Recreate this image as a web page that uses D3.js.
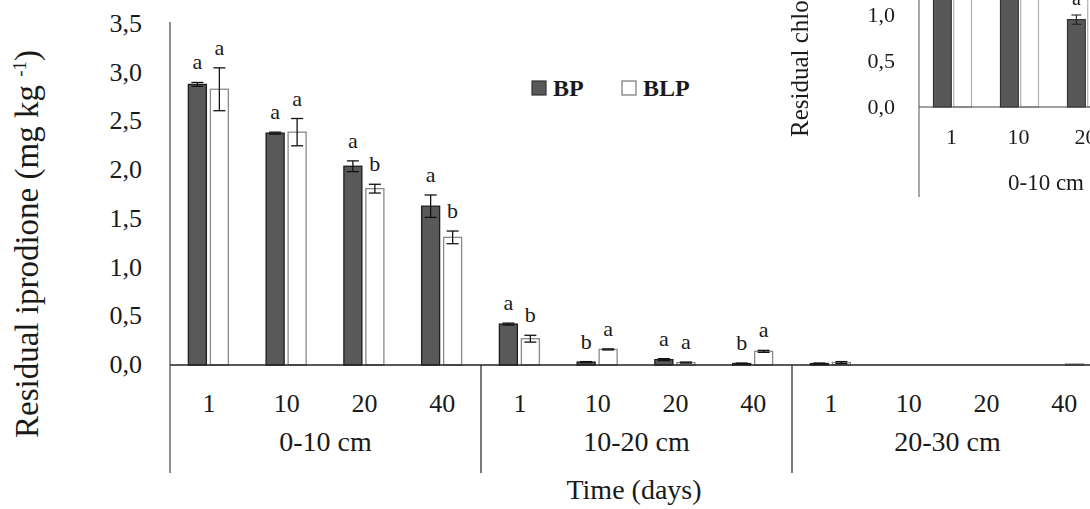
<!DOCTYPE html>
<html>
<head>
<meta charset="utf-8">
<script src="https://cdn.jsdelivr.net/npm/d3@7"></script>
<style>
  html, body { margin: 0; padding: 0; background: #fff; }
  svg { display: block; }
  text { font-family: "Liberation Serif", "Times New Roman", serif; fill: #1a1a1a; }
</style>
</head>
<body>
<svg id="chart" width="1090" height="509"></svg>
<script>
// Soil depth layers and sampling days
const groups = ["0-10 cm", "10-20 cm", "20-30 cm"];
const days = ["1", "10", "20", "40"];
const series = ["BP", "BLP"];

// Residual iprodione (mg kg-1), ordered layer by layer, day by day
const bpMean  = [2.88, 2.38, 2.04, 1.63, 0.42, 0.03, 0.055, 0.015, 0.015, 0, 0, 0];
const bpErr   = [0.02, 0.01, 0.055, 0.115, 0.01, 0.005, 0.01, 0.005, 0.005, 0, 0, 0];
const blpMean = [2.83, 2.39, 1.81, 1.31, 0.27, 0.16, 0.025, 0.14, 0.025, 0, 0, 0.01];
const blpErr  = [0.22, 0.14, 0.045, 0.065, 0.035, 0.005, 0.005, 0.01, 0.01, 0, 0, 0];

// Significance letters above each bar
const bpLetters  = ["a", "a", "a", "a", "a", "b", "a", "b", "", "", "", ""];
const blpLetters = ["a", "a", "b", "b", "b", "a", "a", "a", "", "", "", ""];

const yTicks = [0, 0.5, 1, 1.5, 2, 2.5, 3, 3.5];

// Neighbouring panel (residual chlorothalonil, 0-10 cm), only its lower left corner is in view
const insetDays = ["1", "10", "20"];
const insetBp = [1.9, 1.7, 0.95];
const insetBpErr = [0.05, 0.05, 0.05];
const insetBlp = [1.8, 1.6, 1.2];
const insetTicks = [0, 0.5, 1];

const fmt = v => d3.format(".1f")(v).replace(".", ",");

const svg = d3.select("#chart");
const fillOf = { BP: "#595959", BLP: "#ffffff" };
const strokeOf = { BP: "#1e1e1e", BLP: "#8a8a8a" };

// ---------- main chart ----------
const x0 = d3.scaleBand().domain(groups).range([170, 1103]);
const xc = d3.scaleBand().domain(days).range([0, x0.bandwidth()]);
const x1 = d3.scaleBand().domain(series).range([-20.5, 19.5]).paddingInner(0.1818);
const y = d3.scaleLinear().domain([0, 3.5]).range([365, 24]);

const rows = [];
groups.forEach((g, gi) => days.forEach((d, di) => {
  const i = gi * days.length + di;
  rows.push({ g, d, s: "BP", v: bpMean[i], e: bpErr[i], l: bpLetters[i] });
  rows.push({ g, d, s: "BLP", v: blpMean[i], e: blpErr[i], l: blpLetters[i] });
}));
const cx = r => x0(r.g) + xc(r.d) + xc.bandwidth() / 2;

const main = svg.append("g");

// bars
main.selectAll("rect.bar").data(rows.filter(r => r.v > 0)).join("rect")
  .attr("class", "bar")
  .attr("x", r => cx(r) + x1(r.s))
  .attr("width", x1.bandwidth())
  .attr("y", r => y(r.v))
  .attr("height", r => y(0) - y(r.v))
  .attr("fill", r => fillOf[r.s])
  .attr("stroke", r => strokeOf[r.s])
  .attr("stroke-width", 1.3);

// error bars
const eb = main.selectAll("g.err").data(rows.filter(r => r.e > 0)).join("g")
  .attr("class", "err")
  .attr("stroke", "#111").attr("stroke-width", 1.3);
const bc = r => cx(r) + x1(r.s) + x1.bandwidth() / 2;
eb.append("line").attr("x1", bc).attr("x2", bc)
  .attr("y1", r => y(r.v + r.e)).attr("y2", r => y(r.v - r.e));
eb.append("line").attr("x1", r => bc(r) - 6).attr("x2", r => bc(r) + 6)
  .attr("y1", r => y(r.v + r.e)).attr("y2", r => y(r.v + r.e));
eb.append("line").attr("x1", r => bc(r) - 6).attr("x2", r => bc(r) + 6)
  .attr("y1", r => y(r.v - r.e)).attr("y2", r => y(r.v - r.e));

// letters
main.selectAll("text.letter").data(rows.filter(r => r.l)).join("text")
  .attr("class", "letter")
  .attr("x", bc)
  .attr("y", r => y(r.v + r.e) - 13)
  .attr("text-anchor", "middle")
  .attr("font-size", 22)
  .text(r => r.l);

// y axis
main.append("line").attr("x1", 170).attr("x2", 170).attr("y1", 22).attr("y2", 473)
  .attr("stroke", "#555").attr("stroke-width", 1.3);
main.selectAll("text.ytick").data(yTicks).join("text")
  .attr("class", "ytick")
  .attr("x", 142).attr("y", d => y(d) + 8)
  .attr("text-anchor", "end").attr("font-size", 26)
  .text(fmt);

// x axis baseline and layer dividers
main.append("line").attr("x1", 170).attr("x2", 1103).attr("y1", y(0)).attr("y2", y(0))
  .attr("stroke", "#222").attr("stroke-width", 1.3);
main.selectAll("line.div").data(groups.slice(1).concat(["end"])).join("line")
  .attr("class", "div")
  .attr("x1", g => g === "end" ? x0.range()[1] : x0(g))
  .attr("x2", g => g === "end" ? x0.range()[1] : x0(g))
  .attr("y1", y(0)).attr("y2", 473)
  .attr("stroke", "#222").attr("stroke-width", 1.2);

// day labels
const dayRows = [];
groups.forEach(g => days.forEach(d => dayRows.push({ g, d })));
main.selectAll("text.day").data(dayRows).join("text")
  .attr("class", "day")
  .attr("x", r => x0(r.g) + xc(r.d) + xc.bandwidth() / 2)
  .attr("y", 412).attr("text-anchor", "middle").attr("font-size", 26)
  .text(r => r.d);

// layer labels
main.selectAll("text.grp").data(groups).join("text")
  .attr("class", "grp")
  .attr("x", g => x0(g) + x0.bandwidth() / 2)
  .attr("y", 451).attr("text-anchor", "middle").attr("font-size", 28)
  .text(g => g);

// axis titles
main.append("text").attr("x", 634).attr("y", 499).attr("text-anchor", "middle")
  .attr("font-size", 28).text("Time (days)");
const yl = main.append("text")
  .attr("transform", "translate(38,244) rotate(-90)")
  .attr("text-anchor", "middle").attr("font-size", 33);
yl.append("tspan").text("Residual iprodione (mg kg ");
yl.append("tspan").attr("font-size", 19).attr("dy", -12).text("-1");
yl.append("tspan").attr("dy", 12).text(")");

// legend
const leg = main.append("g").attr("transform", "translate(532,81)");
series.forEach((s, i) => {
  const gx = i * 90;
  leg.append("rect").attr("x", gx).attr("y", 0).attr("width", 14).attr("height", 14)
    .attr("fill", fillOf[s]).attr("stroke", i === 0 ? "#333" : "#777").attr("stroke-width", 1.2);
  leg.append("text").attr("x", gx + 21).attr("y", 15).attr("font-size", 24)
    .attr("font-weight", "bold").text(s);
});

// ---------- neighbouring panel in the upper right ----------
const defs = svg.append("defs");
defs.append("clipPath").attr("id", "insetClip")
  .append("rect").attr("x", 785).attr("y", 0).attr("width", 305).attr("height", 200);
defs.append("filter").attr("id", "soft")
  .append("feGaussianBlur").attr("stdDeviation", 0.45);

const inset = svg.append("g").attr("clip-path", "url(#insetClip)").attr("filter", "url(#soft)");
inset.append("rect").attr("x", 785).attr("y", 0).attr("width", 305).attr("height", 200).attr("fill", "#fff");

const ix = d3.scaleBand().domain(insetDays).range([919, 919 + 67 * insetDays.length]);
const ix1 = d3.scaleBand().domain(series).range([-19, 19]).paddingInner(0.12);
const iy = d3.scaleLinear().domain([0, 1]).range([107, 15]);

const irows = insetDays.flatMap((d, i) => [
  { d, s: "BP", v: insetBp[i], e: insetBpErr[i] },
  { d, s: "BLP", v: insetBlp[i], e: 0 }
]);
const icx = r => ix(r.d) + ix.bandwidth() / 2 + ix1(r.s);
inset.selectAll("rect.ibar").data(irows).join("rect")
  .attr("class", "ibar")
  .attr("x", icx).attr("width", ix1.bandwidth())
  .attr("y", r => iy(r.v)).attr("height", r => iy(0) - iy(r.v))
  .attr("fill", r => fillOf[r.s])
  .attr("stroke", r => r.s === "BP" ? "#333" : "#b0b0b0").attr("stroke-width", 1.2);
inset.selectAll("g.ierr").data(irows.filter(r => r.e > 0)).join("g")
  .attr("class", "ierr").attr("stroke", "#222").attr("stroke-width", 1.1)
  .each(function (r) {
    const c = icx(r) + ix1.bandwidth() / 2;
    const g = d3.select(this);
    g.append("line").attr("x1", c).attr("x2", c).attr("y1", iy(r.v + r.e)).attr("y2", iy(r.v - r.e));
    g.append("line").attr("x1", c - 5).attr("x2", c + 5).attr("y1", iy(r.v + r.e)).attr("y2", iy(r.v + r.e));
    g.append("line").attr("x1", c - 5).attr("x2", c + 5).attr("y1", iy(r.v - r.e)).attr("y2", iy(r.v - r.e));
  });
inset.append("text").attr("x", icx(irows[4]) + ix1.bandwidth() / 2).attr("y", 5)
  .attr("text-anchor", "middle").attr("font-size", 20).text("a");

inset.append("line").attr("x1", 919).attr("x2", 919).attr("y1", 0).attr("y2", 197)
  .attr("stroke", "#777").attr("stroke-width", 1.3);
inset.append("line").attr("x1", 919).attr("x2", 1090).attr("y1", iy(0)).attr("y2", iy(0))
  .attr("stroke", "#444").attr("stroke-width", 1.2);
inset.selectAll("text.itick").data(insetTicks).join("text")
  .attr("class", "itick").attr("x", 895).attr("y", d => iy(d) + 7)
  .attr("text-anchor", "end").attr("font-size", 22).text(fmt);
inset.selectAll("text.iday").data(insetDays).join("text")
  .attr("class", "iday").attr("x", d => ix(d) + ix.bandwidth() / 2 - 1).attr("y", 144)
  .attr("text-anchor", "middle").attr("font-size", 22).text(d => d);
inset.append("text").attr("x", 1008).attr("y", 190)
  .attr("font-size", 23).text("0-10 cm");
inset.append("text").attr("transform", "translate(808,137) rotate(-90)")
  .attr("font-size", 25).text("Residual chlorothalonil (mg kg -1)");
</script>
</body>
</html>
